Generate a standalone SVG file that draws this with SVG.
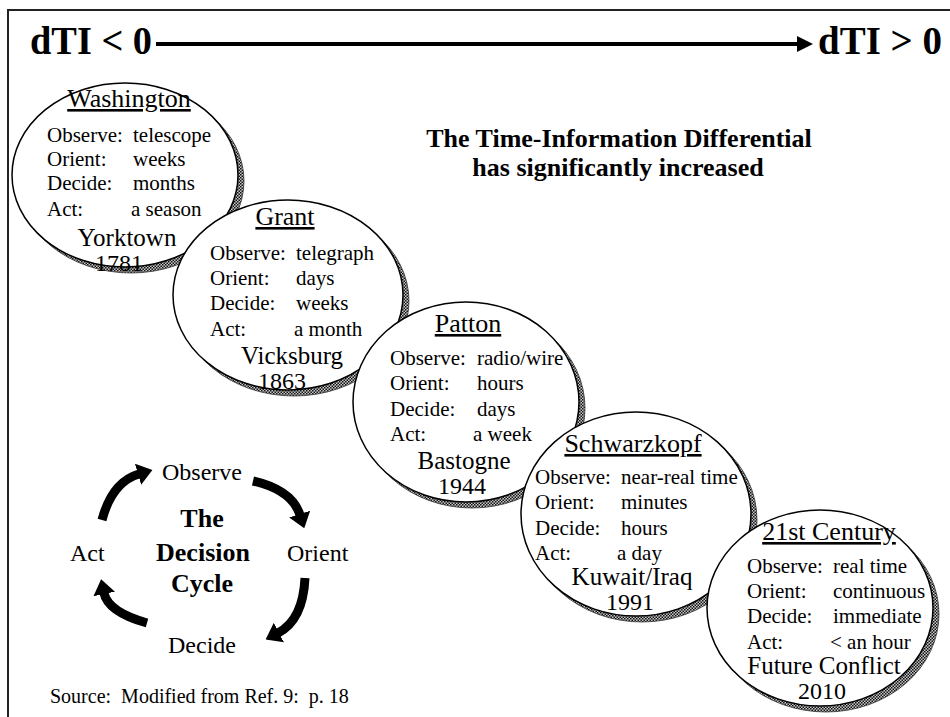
<svg xmlns="http://www.w3.org/2000/svg" width="950" height="717" viewBox="0 0 950 717">
<defs>
<pattern id="hatch" width="3" height="3" patternUnits="userSpaceOnUse">
<rect width="3" height="3" fill="#c8c8c8"/>
<rect width="1.5" height="1.5" fill="#111"/>
<rect x="1.5" y="1.5" width="1.5" height="1.5" fill="#111"/>
</pattern>
<marker id="head" viewBox="0 0 16 16" refX="1" refY="8" markerWidth="16" markerHeight="16" markerUnits="userSpaceOnUse" orient="auto">
<path d="M0,0 L16,8 L0,16 z" fill="#000"/>
</marker>
<marker id="cyc" viewBox="0 0 15 22" refX="1" refY="11" markerWidth="15" markerHeight="22" markerUnits="userSpaceOnUse" orient="auto">
<path d="M0,0 L15,11 L0,22 z" fill="#000"/>
</marker>
</defs>
<style>
text{font-family:"Liberation Serif","Times New Roman",serif;fill:#000}
.b{font-size:21px}
.t{font-size:26px;text-decoration:underline}
.p{font-size:25px}
.y{font-size:24px}
.m{text-anchor:middle}
.bold{font-weight:bold}
.sh{fill:url(#hatch);stroke:#333;stroke-width:0.8}
.el{fill:#fff;stroke:#000;stroke-width:1.5}
.cy{font-size:24px}
.arc{fill:none;stroke:#000;stroke-width:9}
</style>
<rect width="950" height="717" fill="#fff"/>
<path d="M952,10 H8 V717" fill="none" stroke="#222" stroke-width="2"/>

<g id="header">
<text x="30" y="54" class="bold" font-size="40" textLength="122" lengthAdjust="spacingAndGlyphs">dTI &lt; 0</text>
<text x="818" y="54" class="bold" font-size="40" textLength="124" lengthAdjust="spacingAndGlyphs">dTI &gt; 0</text>
</g>

<g id="title">
<text x="619" y="147" class="bold m" font-size="26">The Time-Information Differential</text>
<text x="618" y="176" class="bold m" font-size="26">has significantly increased</text>
</g>

<g id="connectors">
<line x1="156" y1="44" x2="798" y2="44" stroke="#000" stroke-width="4" marker-end="url(#head)"/>
<path class="arc" d="M102,520 Q112,482 139,474" marker-end="url(#cyc)"/>
<path class="arc" d="M253,481 Q292,490 300,515" marker-end="url(#cyc)"/>
<path class="arc" d="M305,578 Q303,620 278,633" marker-end="url(#cyc)"/>
<path class="arc" d="M147,623 Q108,612 104,593" marker-end="url(#cyc)"/>
</g>

<g id="washington">
<ellipse class="sh" cx="131" cy="181" rx="113" ry="92"/>
<ellipse class="el" cx="125" cy="175" rx="113" ry="92"/>
<text x="129" y="107" class="t m">Washington</text>
<text x="47" y="142" class="b">Observe:</text><text x="133" y="142" class="b">telescope</text>
<text x="47" y="166" class="b">Orient:</text><text x="133" y="166" class="b">weeks</text>
<text x="47" y="190" class="b">Decide:</text><text x="133" y="190" class="b">months</text>
<text x="47" y="216" class="b">Act:</text><text x="131" y="216" class="b">a season</text>
<text x="127" y="246" class="p m">Yorktown</text>
<text x="119" y="271" class="y m">1781</text>
</g>

<g id="grant">
<ellipse class="sh" cx="294" cy="301" rx="115" ry="95"/>
<ellipse class="el" cx="288" cy="295" rx="115" ry="95"/>
<text x="285" y="225" class="t m">Grant</text>
<text x="210" y="260" class="b">Observe:</text><text x="296" y="260" class="b">telegraph</text>
<text x="210" y="285" class="b">Orient:</text><text x="296" y="285" class="b">days</text>
<text x="210" y="310" class="b">Decide:</text><text x="296" y="310" class="b">weeks</text>
<text x="210" y="336" class="b">Act:</text><text x="294" y="336" class="b">a month</text>
<text x="292" y="364" class="p m">Vicksburg</text>
<text x="282" y="389" class="y m">1863</text>
</g>

<g id="patton">
<ellipse class="sh" cx="472" cy="408" rx="113" ry="100"/>
<ellipse class="el" cx="466" cy="402" rx="113" ry="100"/>
<text x="468" y="332" class="t m">Patton</text>
<text x="390" y="365" class="b">Observe:</text><text x="477" y="365" class="b">radio/wire</text>
<text x="390" y="390" class="b">Orient:</text><text x="477" y="390" class="b">hours</text>
<text x="390" y="416" class="b">Decide:</text><text x="477" y="416" class="b">days</text>
<text x="390" y="441" class="b">Act:</text><text x="473" y="441" class="b">a week</text>
<text x="464" y="469" class="p m">Bastogne</text>
<text x="462" y="494" class="y m">1944</text>
</g>

<g id="schwarzkopf">
<ellipse class="sh" cx="642" cy="520" rx="115" ry="102"/>
<ellipse class="el" cx="636" cy="514" rx="115" ry="102"/>
<text x="633" y="452" class="t m">Schwarzkopf</text>
<text x="535" y="484" class="b">Observe:</text><text x="621" y="484" class="b">near-real time</text>
<text x="535" y="509" class="b">Orient:</text><text x="621" y="509" class="b">minutes</text>
<text x="535" y="535" class="b">Decide:</text><text x="621" y="535" class="b">hours</text>
<text x="535" y="560" class="b">Act:</text><text x="617" y="560" class="b">a day</text>
<text x="632" y="585" class="p m">Kuwait/Iraq</text>
<text x="630" y="610" class="y m">1991</text>
</g>

<g id="century21">
<ellipse class="sh" cx="826" cy="614" rx="113" ry="98"/>
<ellipse class="el" cx="820" cy="608" rx="113" ry="98"/>
<text x="829" y="540" class="t m">21st Century</text>
<text x="747" y="573" class="b">Observe:</text><text x="833" y="573" class="b">real time</text>
<text x="747" y="598" class="b">Orient:</text><text x="833" y="598" class="b">continuous</text>
<text x="747" y="623" class="b">Decide:</text><text x="833" y="623" class="b">immediate</text>
<text x="747" y="649" class="b">Act:</text><text x="830" y="649" class="b">&lt; an hour</text>
<text x="824" y="674" class="p m">Future Conflict</text>
<text x="822" y="699" class="y m">2010</text>
</g>

<g id="cycle">
<text x="162" y="480" class="cy">Observe</text>
<text x="287" y="561" class="cy">Orient</text>
<text x="70" y="561" class="cy">Act</text>
<text x="168" y="653" class="cy">Decide</text>
<text x="202" y="527" class="bold m" font-size="26">The</text>
<text x="203" y="561" class="bold m" font-size="26">Decision</text>
<text x="202" y="592" class="bold m" font-size="26">Cycle</text>
</g>

<g id="source">
<text x="50" y="703" font-size="20" xml:space="preserve">Source:  Modified from Ref. 9:  p. 18</text>
</g>
</svg>
